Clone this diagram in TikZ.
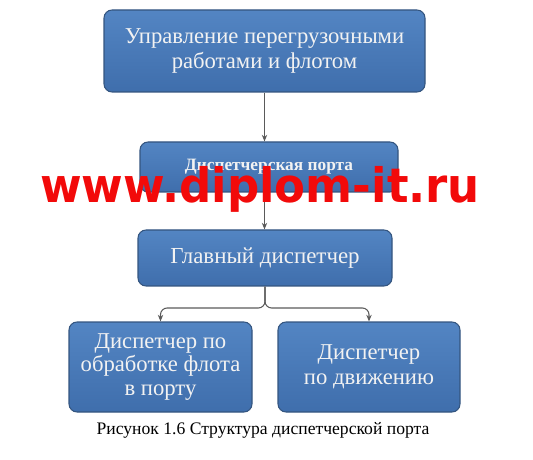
\documentclass[tikz,border=0pt]{standalone}
\usepackage{fontspec}
\setmainfont{Liberation Serif}
\newfontfamily\wmfont{DejaVu Sans}
\usetikzlibrary{arrows.meta}
\definecolor{boxtop}{HTML}{5385C3}
\definecolor{boxbot}{HTML}{3F6EAC}
\definecolor{boxline}{HTML}{34557F}
\definecolor{txtw}{HTML}{F2F2F2}
\definecolor{conn}{HTML}{5A5A5A}
\definecolor{wmred}{HTML}{F20A0A}
\tikzset{
  bluebox/.style={draw=boxline, line width=0.8pt, rounded corners=6pt,
    top color=boxtop, bottom color=boxbot, text=txtw, align=center,
    inner sep=0pt, anchor=center},
  conline/.style={draw=conn, line width=0.8pt, -{Stealth[length=5pt,width=4pt]}},
}
\begin{document}
\begin{tikzpicture}[x=0.75pt,y=-0.75pt]
\useasboundingbox (0,0) rectangle (533,460);
\node[bluebox, minimum width=321*0.75pt, minimum height=82*0.75pt,
  font=\fontsize{17pt}{19pt}\selectfont] (top) at (264.5,51)
  {Управление перегрузочными\\работами и флотом};
\node[bluebox, minimum width=258*0.75pt, minimum height=50*0.75pt,
  font=\fontsize{13pt}{15pt}\selectfont\bfseries] (disp) at (269,167)
  {Диспетчерская порта};
\node[bluebox, minimum width=254*0.75pt, minimum height=56*0.75pt,
  font=\fontsize{17.2pt}{19pt}\selectfont] (main) at (265,258)
  {Главный диспетчер};
\node[bluebox, minimum width=183*0.75pt, minimum height=90*0.75pt,
  font=\fontsize{17pt}{17.6pt}\selectfont] (bl) at (160.5,367)
  {Диспетчер по\\обработке флота\\в порту};
\node[bluebox, minimum width=182*0.75pt, minimum height=90*0.75pt,
  font=\fontsize{17pt}{18.8pt}\selectfont] (br) at (369,367)
  {Диспетчер\\по движению};
\coordinate (j) at (265,308);
\draw[conline] (top.south) -- (top.south |- disp.north);
\draw[conline] (top.south |- disp.south) -- (top.south |- main.north);
\draw[conline, rounded corners=5pt] (main.south) -- (j) -| (bl.north);
\draw[conline, rounded corners=5pt] (main.south) -- (j) -| (br.north);
\node[font=\fontsize{13.2pt}{15pt}\selectfont, anchor=base] (cap) at (263,434)
  {Рисунок 1.6 Структура диспетчерской порта};
\node[font=\fontsize{35.6pt}{40pt}\wmfont\bfseries, text=wmred, anchor=base,
  inner sep=0pt, xscale=0.95] (wm) at (260,203)
  {www.diplom-it.ru};
\end{tikzpicture}
\end{document}
